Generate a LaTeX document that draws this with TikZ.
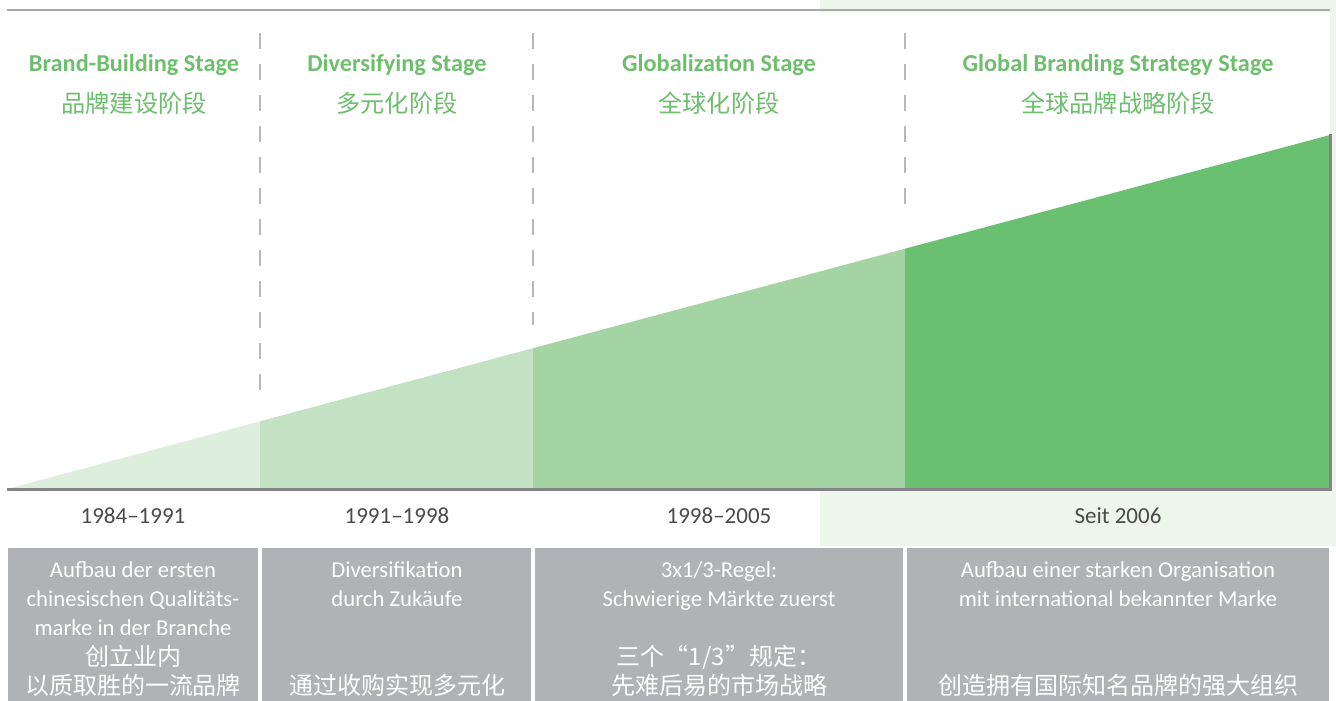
\documentclass[tikz,border=0pt]{standalone}
\usepackage{fontspec}
\setmainfont{Carlito}
\newfontfamily\cjk{Noto Sans CJK SC}

\definecolor{stagegreen}{HTML}{6DBE6D}
\definecolor{bggreen}{HTML}{EEF5EC}
\definecolor{segA}{HTML}{DDEEDD}
\definecolor{segB}{HTML}{C3E2C3}
\definecolor{segC}{HTML}{A4D4A4}
\definecolor{segD}{HTML}{69C071}
\definecolor{basegray}{HTML}{838388}
\definecolor{topgray}{HTML}{A9A9A9}
\definecolor{dashgray}{HTML}{B8B8B8}
\definecolor{yeargray}{HTML}{4A4A4A}
\definecolor{boxgray}{HTML}{B1B2B6}

\newcommand\zh[1]{{\cjk\fontsize{24}{29.3}\selectfont #1}}

\begin{document}
\begin{tikzpicture}[x=1pt,y=-1pt,
   stage/.style={font=\bfseries\fontsize{24.3}{28}\selectfont,text=stagegreen,inner sep=0pt,anchor=base},
   stagezh/.style={font=\cjk\fontsize{24.2}{28}\selectfont,text=stagegreen,inner sep=0pt,anchor=base},
   year/.style={font=\fontsize{23}{28}\selectfont,text=yeargray,inner sep=0pt,anchor=base},
   note/.style={font=\fontsize{22.7}{29.3}\selectfont,text=white,align=center,inner sep=0pt,anchor=north},
   divider/.style={draw=dashgray,line width=1.3pt,dash pattern=on 16pt off 15pt}]
   \useasboundingbox (0,0) rectangle (1336,701);
   % 背景
   \fill[white] (0,0) rectangle (1336,701);
   \fill[bggreen] (820,0) rectangle (1336,546);
   \fill[white] (0,12) rectangle (1330,488);
   \draw[topgray,line width=2.5pt] (7,10) -- (1330,10);

   % 区切り線
   \draw[divider] (260,33) -- (260,392);
   \draw[divider] (533,33) -- (533,325);
   \draw[divider] (905,33) -- (905,210);

   % 成長の台形
   \fill[segA] (7,489) -- (260,421.3) -- (260,489) -- cycle;
   \fill[segB] (260,489) -- (260,421.3) -- (533,348.2) -- (533,489) -- cycle;
   \fill[segC] (533,489) -- (533,348.2) -- (905,248.7) -- (905,489) -- cycle;
   \fill[segD] (905,489) -- (905,248.7) -- (1330,135) -- (1330,489) -- cycle;
   \draw[basegray,line width=2.5pt] (7,489.5) -- (1330.5,489.5) -- (1330.5,134);

   % 段階の名前
   \node[stage] (stage1) at (134,71) {Brand-Building Stage};
   \node[stage] (stage2) at (397,71) {Diversifying Stage};
   \node[stage] (stage3) at (719,71) {Globalization Stage};
   \node[stage] (stage4) at (1118,71) {Global Branding Strategy Stage};
   \node[stagezh] (stage1zh) at (134,112) {品牌建设阶段};
   \node[stagezh] (stage2zh) at (397,112) {多元化阶段};
   \node[stagezh] (stage3zh) at (719,112) {全球化阶段};
   \node[stagezh] (stage4zh) at (1118,112) {全球品牌战略阶段};

   % 年
   \node[year] (year1) at (133,523) {1984--1991};
   \node[year] (year2) at (397,523) {1991--1998};
   \node[year] (year3) at (719,523) {1998--2005};
   \node[year] (year4) at (1118,523) {Seit 2006};

   % 説明の箱
   \fill[white] (5,546) rectangle (1332,701);
   \fill[boxgray] (8,548) rectangle (258,701);
   \fill[boxgray] (262,548) rectangle (531,701);
   \fill[boxgray] (535,548) rectangle (903,701);
   \fill[boxgray] (907,548) rectangle (1329,701);

   \node[note] (note1) at (133,556.5) {\strut Aufbau der ersten\\chinesischen Qualitäts-\\marke in der Branche\\\zh{创立业内}\\\zh{以质取胜的一流品牌}};
   \node[note] (note2) at (397,556.5) {\strut Diversifikation\\durch Zukäufe\\\mbox{}\\\mbox{}\\\zh{通过收购实现多元化}};
   \node[note] (note3) at (719,556.5) {\strut 3x1/3-Regel:\\Schwierige Märkte zuerst\\\mbox{}\\\zh{三个“1/3”规定：}\\\zh{先难后易的市场战略}};
   \node[note] (note4) at (1118,556.5) {\strut Aufbau einer starken Organisation\\mit international bekannter Marke\\\mbox{}\\\mbox{}\\\zh{创造拥有国际知名品牌的强大组织}};
\end{tikzpicture}
\end{document}
